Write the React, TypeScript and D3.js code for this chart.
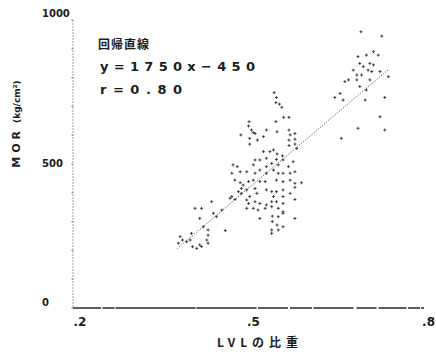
import React from 'react';
import * as d3 from 'd3';

// LVL specific gravity vs. MOR (kg/cm²)
const density = [
  0.684, 0.719, 0.705, 0.679, 0.693, 0.713, 0.682, 0.699, 0.688, 0.705,
  0.696, 0.671, 0.677, 0.685, 0.702, 0.716, 0.730, 0.663, 0.657, 0.677,
  0.699, 0.682, 0.649, 0.640, 0.654, 0.691, 0.724, 0.716, 0.679, 0.724,
  0.651, 0.693,
  0.538, 0.542, 0.541, 0.547, 0.551, 0.554, 0.563, 0.541, 0.543, 0.563,
  0.565, 0.563, 0.563, 0.573, 0.573, 0.573, 0.576,
  0.496, 0.495, 0.500, 0.506, 0.482, 0.497, 0.510, 0.520, 0.525, 0.497,
  0.503,
  0.537, 0.520, 0.531, 0.543, 0.552, 0.506, 0.514, 0.525, 0.542, 0.553,
  0.534, 0.503, 0.525, 0.545, 0.562, 0.570, 0.469, 0.476, 0.467, 0.481,
  0.492, 0.506, 0.514, 0.525, 0.537, 0.545, 0.553, 0.565, 0.573, 0.472,
  0.481, 0.495, 0.503, 0.514, 0.523, 0.542, 0.553, 0.565, 0.573, 0.584,
  0.483, 0.492, 0.506, 0.509, 0.525, 0.534, 0.542, 0.553, 0.565, 0.573,
  0.483, 0.497, 0.464, 0.492, 0.537, 0.553, 0.573, 0.495, 0.506, 0.514,
  0.525, 0.534, 0.542, 0.553, 0.503, 0.511, 0.523, 0.534, 0.545, 0.553,
  0.492, 0.514, 0.535, 0.545, 0.553, 0.573, 0.535, 0.543, 0.553, 0.534,
  0.545, 0.534,
  0.380, 0.377, 0.384, 0.391, 0.405, 0.416, 0.413, 0.419, 0.427, 0.433,
  0.436, 0.441, 0.401, 0.408, 0.416, 0.427, 0.425, 0.413, 0.397, 0.456,
  0.467, 0.472, 0.427, 0.399, 0.450, 0.478, 0.486,
];
const mor = [
  959, 944, 890, 873, 878, 878, 849, 849, 838, 844,
  826, 826, 809, 809, 821, 821, 803, 792, 786, 792,
  792, 769, 745, 731, 722, 722, 731, 664, 624, 618,
  589, 757,
  748, 731, 713, 708, 697, 662, 662, 647, 612, 618,
  601, 583, 564, 606, 586, 569, 554,
  647, 632, 618, 606, 601, 589, 583, 595, 618, 569,
  609,
  549, 543, 543, 535, 528, 514, 514, 520, 516, 514,
  502, 497, 491, 497, 491, 508, 497, 491, 468, 473,
  473, 468, 479, 468, 479, 468, 468, 468, 473, 444,
  435, 439, 444, 439, 439, 444, 439, 444, 433, 435,
  415, 410, 415, 398, 410, 404, 404, 410, 398, 419,
  398, 387, 381, 375, 387, 387, 377, 363, 369, 363,
  358, 369, 369, 363, 346, 340, 346, 352, 346, 334,
  346, 311, 319, 317, 329, 311, 300, 288, 282, 271,
  271, 259,
  248, 225, 236, 230, 346, 346, 311, 282, 271, 369,
  329, 317, 213, 207, 213, 225, 236, 219, 236, 269,
  387, 377, 253, 259, 340, 404, 427,
];

const xTicks = [0.2, 0.5, 0.8];
const xTickLabels = ['.2', '.5', '.8'];
const yTicks = [0, 500, 1000];
const yMinorTicks = d3.range(0, 1001, 100);

const slope = 1750;
const intercept = -450;
const corrLabel = '0.80';
const fitRange = [0.375, 0.73];

const W = 436;
const H = 363;

export default function App() {
  const x = d3.scaleLinear().domain([0.2, 0.8]).range([73, 430]);
  const y = d3.scaleLinear().domain([0, 1000]).range([308, 20]);

  const fitLine = d3
    .line<number>()
    .x((d) => x(d))
    .y((d) => y(slope * d + intercept));

  const ink = '#1c1c1c';
  const numFont = '"DejaVu Sans", sans-serif';
  const jpFont = '"Noto Sans CJK JP", sans-serif';

  return (
    <svg
      width={W}
      height={H}
      viewBox={`0 0 ${W} ${H}`}
      style={{ position: 'absolute', left: 0, top: 0, background: '#fff' }}
    >
      {/* y axis */}
      <line
        x1={x(0.2)}
        x2={x(0.2)}
        y1={y(1000)}
        y2={y(0)}
        stroke="#888"
        strokeWidth={0.8}
        strokeDasharray="2 1"
      />
      {yMinorTicks.map((t) => (
        <line
          key={`ym${t}`}
          x1={x(0.2) - 1.5}
          x2={x(0.2)}
          y1={y(t)}
          y2={y(t)}
          stroke="#555"
          strokeWidth={0.8}
        />
      ))}
      {/* x axis */}
      <line
        x1={x(0.2)}
        x2={x(0.8) - 6}
        y1={y(0)}
        y2={y(0)}
        stroke="#2a2a2a"
        strokeWidth={1.3}
        strokeDasharray="28 1.5 12 1 80 1 60 1.5 30 2 22 1.5 40 3 20 2"
      />

      {/* tick labels */}
      {yTicks.map((t) => (
        <text
          key={`yl${t}`}
          x={42}
          y={t === 0 ? y(t) - 2 : t === 1000 ? y(t) - 3 : y(t) + 3}
          fontFamily={numFont}
          fontWeight="bold"
          fontSize={10}
          fill={ink}
        >
          {t}
        </text>
      ))}
      {xTicks.map((t, i) => (
        <text
          key={`xl${t}`}
          x={i === 2 ? 435 : x(t) + (i === 0 ? 7 : 2)}
          y={326}
          textAnchor={i === 2 ? 'end' : 'middle'}
          fontFamily={numFont}
          fontWeight="bold"
          fontSize={12}
          fill={ink}
        >
          {xTickLabels[i]}
        </text>
      ))}

      {/* axis titles */}
      <text
        transform="translate(20,124) rotate(-90)"
        textAnchor="middle"
        fontFamily={numFont}
        fontWeight="bold"
        fontSize={11}
        fill={ink}
      >
        <tspan letterSpacing={4}>MOR</tspan>
        <tspan dx={4} fontSize={9}>(kg/cm²)</tspan>
      </text>
      <text
        x={260}
        y={347}
        textAnchor="middle"
        fontFamily={jpFont}
        fontWeight="bold"
        fontSize={12}
        fill={ink}
        letterSpacing={5}
      >
        LVLの比重
      </text>

      {/* regression annotation */}
      <text x={98} y={49} fontFamily={jpFont} fontWeight="bold" fontSize={12} fill={ink} letterSpacing={1}>
        回帰直線
      </text>
      <text
        x={100}
        y={71}
        fontFamily={numFont}
        fontWeight="bold"
        fontSize={13}
        fill={ink}
        textLength={155}
        lengthAdjust="spacing"
      >
        {`y=${slope}x−${-intercept}`}
      </text>
      <text
        x={100}
        y={94}
        fontFamily={numFont}
        fontWeight="bold"
        fontSize={13}
        fill={ink}
        textLength={82}
        lengthAdjust="spacing"
      >
        {`r=${corrLabel}`}
      </text>

      {/* fitted line */}
      <path
        d={fitLine(fitRange) ?? ''}
        fill="none"
        stroke="#444"
        strokeWidth={1}
        strokeDasharray="1 1.5"
      />

      {/* observations */}
      {density.map((d, i) => (
        <path
          key={i}
          transform={`translate(${x(d)},${y(mor[i])})`}
          d="M-1.5,0H1.5M0,-1.5V1.5"
          stroke="#2a2a2a"
          strokeWidth={0.85}
          fill="none"
        />
      ))}
    </svg>
  );
}
